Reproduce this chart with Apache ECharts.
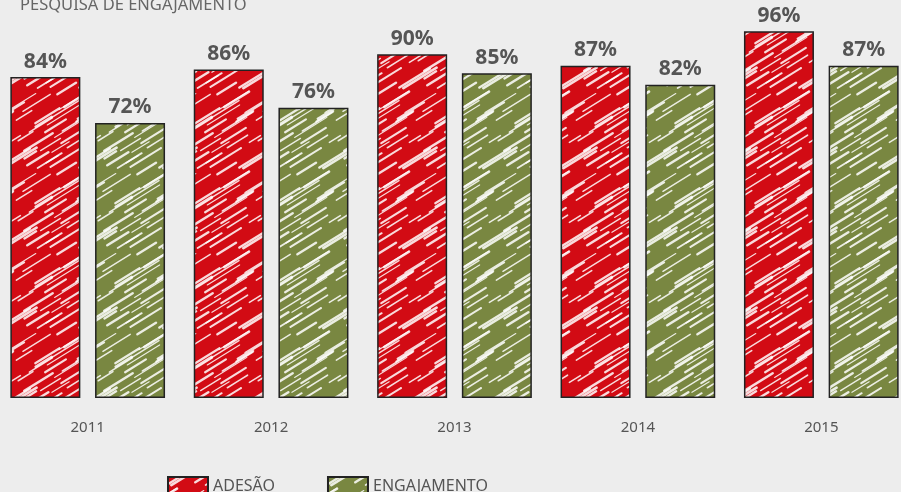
<!DOCTYPE html>
<html>
<head>
<meta charset="utf-8">
<script src="https://cdn.jsdelivr.net/npm/echarts@6/dist/echarts.min.js"></script>
<style>
  html, body { margin: 0; padding: 0; background: #ededed; }
  #chart { width: 901px; height: 492px; }
</style>
</head>
<body>
<div id="chart"></div>
<script>
var years = ['2011', '2012', '2013', '2014', '2015'];
var adesao = [84, 86, 90, 87, 96];
var engajamento = [72, 76, 85, 82, 87];

// sketchy hatch fill: white diagonal strokes over the bar colour
function hatch(base) {
  var c = document.createElement('canvas');
  c.width = 80; c.height = 80;
  var ctx = c.getContext('2d');
  ctx.fillStyle = base;
  ctx.fillRect(0, 0, 80, 80);
  ctx.strokeStyle = 'rgba(255,255,255,0.85)';
  ctx.lineCap = 'round';
  var seed = 11;
  function rnd() { seed = (seed * 9301 + 49297) % 233280; return seed / 233280; }
  for (var i = 0; i < 30; i++) {
    var x = rnd() * 80, y = rnd() * 80, len = 10 + rnd() * 24;
    ctx.lineWidth = 1 + rnd() * 1.8;
    for (var dx = -80; dx <= 80; dx += 80) {
      for (var dy = -80; dy <= 80; dy += 80) {
        ctx.beginPath();
        ctx.moveTo(x + dx, y + dy);
        ctx.lineTo(x + dx + len, y + dy - len * 0.62);
        ctx.stroke();
      }
    }
  }
  return { image: c, repeat: 'repeat' };
}

var chart = echarts.init(document.getElementById('chart'));
var labelStyle = {
  show: true,
  position: 'top',
  distance: 5,
  formatter: '{c}%',
  color: '#555',
  fontSize: 21,
  fontWeight: 'bold',
  fontFamily: 'Noto Sans'
};

chart.setOption({
  backgroundColor: '#ededed',
  animation: false,
  title: {
    text: 'PESQUISA DE ENGAJAMENTO',
    left: 15,
    top: -8,
    textStyle: { color: '#666', fontSize: 16.5, fontWeight: 'normal', fontFamily: 'Noto Sans' }
  },
  legend: {
    left: 162,
    top: 471,
    itemWidth: 40,
    itemHeight: 19,
    itemGap: 52,
    icon: 'rect',
    textStyle: { color: '#555', fontSize: 16, fontFamily: 'Noto Sans' },
    itemStyle: { borderColor: '#222', borderWidth: 2 },
    data: ['ADESÃO', 'ENGAJAMENTO']
  },
  grid: { left: -4, right: -12, top: 16, bottom: 94, outerBoundsMode: 'none' },
  xAxis: {
    type: 'category',
    data: years,
    axisLine: { show: false },
    axisTick: { show: false },
    axisLabel: { color: '#555', fontSize: 15, margin: 22, fontFamily: 'Noto Sans' }
  },
  yAxis: {
    type: 'value',
    min: 0,
    max: 100,
    show: false,
    splitLine: { show: false }
  },
  series: [
    {
      name: 'ADESÃO',
      type: 'bar',
      data: adesao,
      barWidth: 70,
      barGap: '21%',
      itemStyle: { color: hatch('#d20b14'), borderColor: '#222', borderWidth: 1.5 },
      label: labelStyle
    },
    {
      name: 'ENGAJAMENTO',
      type: 'bar',
      data: engajamento,
      barWidth: 70,
      itemStyle: { color: hatch('#798741'), borderColor: '#222', borderWidth: 1.5 },
      label: labelStyle
    }
  ]
});
</script>
</body>
</html>
